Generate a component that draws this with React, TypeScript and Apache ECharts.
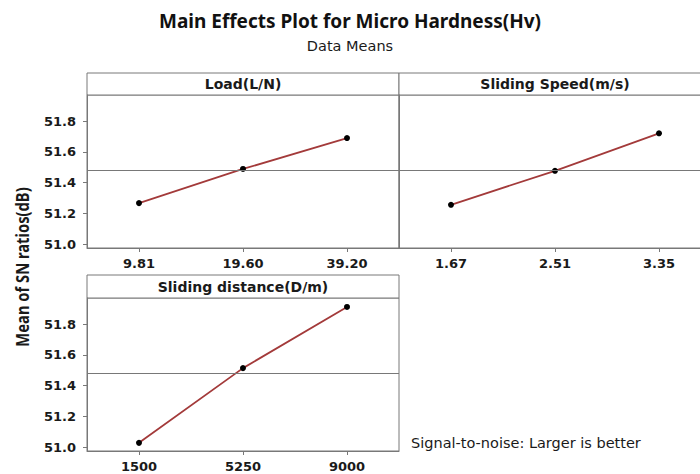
import React, { useEffect, useRef } from "react";
import * as echarts from "echarts";

const loadCats = ["9.81", "19.60", "39.20"];
const loadVals = [51.267, 51.489, 51.69];
const speedCats = ["1.67", "2.51", "3.35"];
const speedVals = [51.256, 51.477, 51.721];
const distCats = ["1500", "5250", "9000"];
const distVals = [51.028, 51.514, 51.912];
const grandMean = 51.485;
const yTicks = [51.0, 51.2, 51.4, 51.6, 51.8];
const panelTitles = ["Load(L/N)", "Sliding Speed(m/s)", "Sliding distance(D/m)"];

const FONT = "Noto Sans";
const TICKFONT = "DejaVu Sans";
const GRAY = "#787878";
const LINE = "#a33a3a";

export default function App() {
  const ref = useRef<HTMLDivElement>(null);
  useEffect(() => {
    if (!ref.current) return;
    const chart = echarts.init(ref.current, null, { renderer: "svg" });
    const grids = [
      { left: 87, top: 95, width: 312, height: 153 },
      { left: 399, top: 95, width: 312, height: 153 },
      { left: 87, top: 298, width: 312, height: 153 },
    ];
    const cats = [loadCats, speedCats, distCats];
    const vals = [loadVals, speedVals, distVals];
    const headers = [
      { x: 87, y: 73, w: 312, h: 22 },
      { x: 399, y: 73, w: 312, h: 22 },
      { x: 87, y: 275, w: 312, h: 23 },
    ];
    const option: any = {
      animation: false,
      backgroundColor: "#fff",
      grid: grids.map((g) => ({
        ...g,
        outerBoundsMode: "none",
        containLabel: false,
        show: true,
        borderColor: GRAY,
        borderWidth: 1,
        backgroundColor: "transparent",
      })),
      xAxis: cats.map((c, i) => ({
        type: "category",
        gridIndex: i,
        data: c,
        boundaryGap: true,
        axisLine: { show: true, lineStyle: { color: GRAY } },
        axisTick: { show: true, alignWithLabel: true, length: 4, lineStyle: { color: GRAY } },
        axisLabel: { color: "#1a1a1a", fontFamily: TICKFONT, fontWeight: "bold", fontSize: 13, margin: 9 },
        splitLine: { show: false },
      })),
      yAxis: cats.map((c, i) => ({
        type: "value",
        gridIndex: i,
        min: 50.975,
        max: 51.97,
        axisLine: { show: true, lineStyle: { color: GRAY } },
        axisTick: { show: i !== 1, length: 4, lineStyle: { color: GRAY }, customValues: yTicks },
        axisLabel: {
          show: i !== 1,
          color: "#1a1a1a",
          fontFamily: TICKFONT,
          fontWeight: "bold",
          fontSize: 13,
          margin: 11,
          customValues: yTicks,
          formatter: (v: number) => v.toFixed(1),
        },
        splitLine: { show: false },
      })),
      series: vals.map((v, i) => ({
        type: "line",
        xAxisIndex: i,
        yAxisIndex: i,
        data: v,
        symbol: "circle",
        symbolSize: 6,
        itemStyle: { color: "#000" },
        lineStyle: { color: LINE, width: 1.8 },
        markLine: {
          silent: true,
          symbol: ["none", "none"],
          label: { show: false },
          lineStyle: { color: GRAY, type: "solid", width: 1 },
          data: [{ yAxis: grandMean }],
        },
      })),
      graphic: [
        {
          type: "text",
          left: "center",
          top: 11,
          style: { text: "Main Effects Plot for Micro Hardness(Hv)", fontFamily: FONT, fontWeight: "bold", fontSize: 19, fill: "#111" },
        },
        {
          type: "text",
          left: "center",
          top: 38,
          style: { text: "Data Means", fontFamily: TICKFONT, fontSize: 14.5, fill: "#1a1a1a" },
        },
        ...headers.map((h, i) => ({
          type: "group",
          children: [
            { type: "rect", shape: { x: h.x, y: h.y, width: h.w, height: h.h }, style: { fill: "#fff", stroke: GRAY, lineWidth: 1 } },
            {
              type: "text",
              x: h.x + h.w / 2,
              y: h.y + h.h / 2,
              style: { text: panelTitles[i], fontFamily: TICKFONT, fontWeight: "bold", fontSize: 14, fill: "#1a1a1a", align: "center", verticalAlign: "middle" },
            },
          ],
        })),
        {
          type: "text",
          x: 22,
          y: 267,
          rotation: Math.PI / 2,
          scaleX: 0.82,
          style: { text: "Mean of SN ratios(dB)", fontFamily: FONT, fontWeight: "bold", fontSize: 18, fill: "#1a1a1a", align: "center", verticalAlign: "middle" },
        },
        {
          type: "text",
          x: 411,
          y: 443,
          style: { text: "Signal-to-noise: Larger is better", fontFamily: TICKFONT, fontSize: 14.5, fill: "#1a1a1a", align: "left", verticalAlign: "middle" },
        },
      ],
    };
    chart.setOption(option);
    return () => chart.dispose();
  }, []);
  return <div ref={ref} style={{ position: "absolute", left: 0, top: 0, width: 700, height: 474 }} />;
}
